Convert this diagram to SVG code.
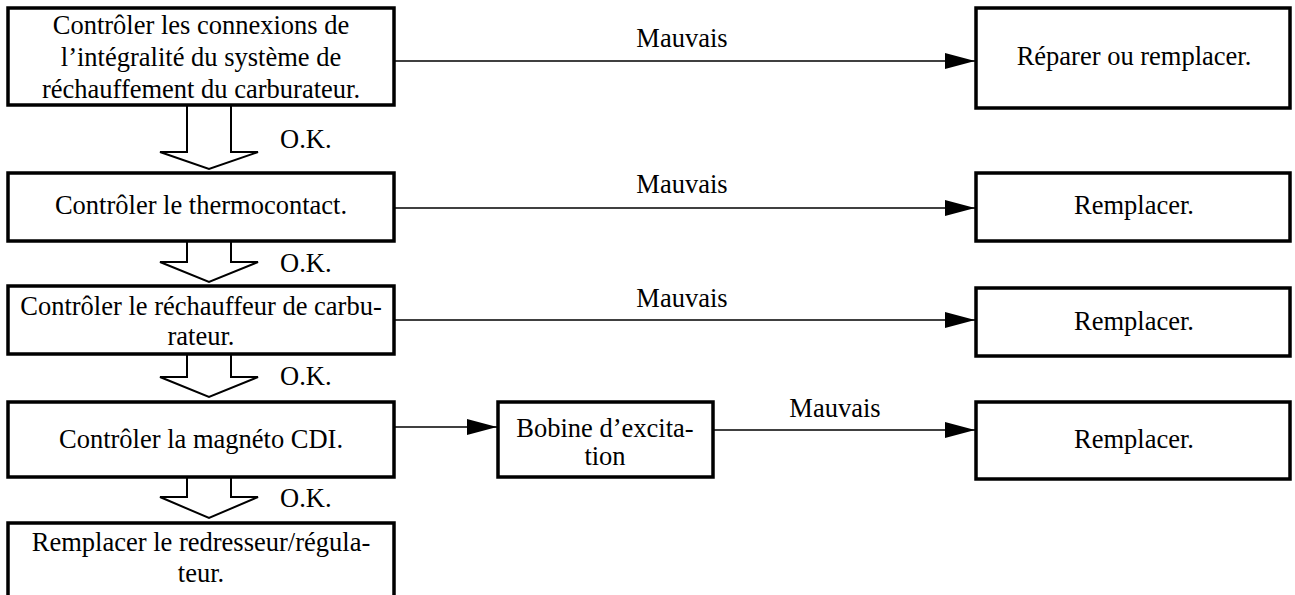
<svg xmlns="http://www.w3.org/2000/svg" width="1295" height="595" viewBox="0 0 1295 595">
<style>
.box{fill:#fff;stroke:#000;stroke-width:3.5}
.t{font-family:"Liberation Serif","Times New Roman",serif;font-size:26.5px;fill:#000;text-anchor:middle}
.l{font-family:"Liberation Serif","Times New Roman",serif;font-size:26.5px;fill:#000}
.c{stroke:#000;stroke-width:1.5;fill:none}
.h{fill:#fff;stroke:#000;stroke-width:2}
</style>
<defs>
<marker id="ah" markerWidth="30" markerHeight="16" refX="30" refY="8" orient="auto" markerUnits="userSpaceOnUse">
<path d="M0,0 L30,8 L0,16 Z" fill="#000"/>
</marker>
</defs>
<g id="connectors">
<line class="c" x1="394" y1="61" x2="975" y2="61" marker-end="url(#ah)"/>
<line class="c" x1="394" y1="208" x2="975" y2="208" marker-end="url(#ah)"/>
<line class="c" x1="394" y1="320" x2="975" y2="320" marker-end="url(#ah)"/>
<line class="c" x1="394" y1="427" x2="497" y2="427" marker-end="url(#ah)"/>
<line class="c" x1="713" y1="430" x2="975" y2="430" marker-end="url(#ah)"/>
<polyline class="h" points="187,105 187,152 160,152 209,169 258,152 231,152 231,105"/>
<polyline class="h" points="187,241 187,262 160,262 209,282 258,262 231,262 231,241"/>
<polyline class="h" points="187,354 187,377 160,377 209,397 258,377 231,377 231,354"/>
<polyline class="h" points="187,477 187,497 160,497 209,518 258,497 231,497 231,477"/>
<text class="t" x="682" y="47">Mauvais</text>
<text class="t" x="682" y="193">Mauvais</text>
<text class="t" x="682" y="307">Mauvais</text>
<text class="t" x="835" y="417">Mauvais</text>
<text class="l" x="280" y="148">O.K.</text>
<text class="l" x="280" y="272">O.K.</text>
<text class="l" x="280" y="385">O.K.</text>
<text class="l" x="280" y="507">O.K.</text>
</g>
<g id="n1"><rect class="box" x="8" y="8" width="386" height="97"/>
<text class="t" x="201" y="34">Contrôler les connexions de</text>
<text class="t" x="201" y="66">l’intégralité du système de</text>
<text class="t" x="201" y="98">réchauffement du carburateur.</text></g>
<g id="n2"><rect class="box" x="8" y="173" width="386" height="68"/>
<text class="t" x="201" y="214">Contrôler le thermocontact.</text></g>
<g id="n3"><rect class="box" x="8" y="286" width="386" height="68"/>
<text class="t" x="201" y="315">Contrôler le réchauffeur de carbu-</text>
<text class="t" x="201" y="345">rateur.</text></g>
<g id="n4"><rect class="box" x="8" y="402" width="386" height="75"/>
<text class="t" x="201" y="448">Contrôler la magnéto CDI.</text></g>
<g id="n5"><rect class="box" x="8" y="523" width="386" height="80"/>
<text class="t" x="201" y="551">Remplacer le redresseur/régula-</text>
<text class="t" x="201" y="582">teur.</text></g>
<g id="n6"><rect class="box" x="498" y="402" width="215" height="75"/>
<text class="t" x="605" y="437">Bobine d’excita-</text>
<text class="t" x="605" y="465">tion</text></g>
<g id="r1"><rect class="box" x="976" y="8" width="314" height="100"/>
<text class="t" x="1134" y="65">Réparer ou remplacer.</text></g>
<g id="r2"><rect class="box" x="976" y="173" width="314" height="68"/>
<text class="t" x="1134" y="214">Remplacer.</text></g>
<g id="r3"><rect class="box" x="976" y="288" width="314" height="68"/>
<text class="t" x="1134" y="330">Remplacer.</text></g>
<g id="r4"><rect class="box" x="976" y="402" width="314" height="77"/>
<text class="t" x="1134" y="448">Remplacer.</text></g>
</svg>
